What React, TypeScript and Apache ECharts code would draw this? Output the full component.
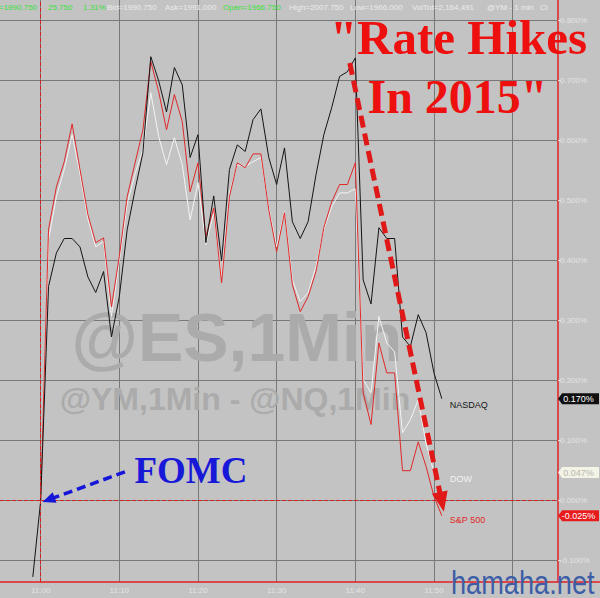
import React, { useEffect, useRef } from 'react';
import * as echarts from 'echarts';

// minutes after 11:00
const minutes = [-1, 0, 1, 2, 3, 4, 5, 6, 7, 8, 9, 10, 11, 12, 13, 14, 15, 16, 17, 18, 19, 20, 21, 22, 23, 24, 25, 26, 27, 28, 29, 30, 31, 32, 33, 34, 35, 36, 37, 38, 39, 40, 41, 42, 43, 44, 45, 46, 47, 48, 49, 50, 51];

const nasdaq = [-0.127, 0.0, 0.357, 0.413, 0.437, 0.437, 0.423, 0.373, 0.347, 0.382, 0.273, 0.34, 0.452, 0.518, 0.58, 0.74, 0.70, 0.648, 0.722, 0.693, 0.572, 0.61, 0.43, 0.508, 0.40, 0.552, 0.593, 0.582, 0.635, 0.653, 0.572, 0.527, 0.588, 0.465, 0.437, 0.465, 0.543, 0.61, 0.655, 0.707, 0.715, 0.738, 0.368, 0.328, 0.455, 0.437, 0.437, 0.273, 0.257, 0.31, 0.28, 0.213, 0.17];

const dow = [null, 0.0, 0.435, 0.507, 0.552, 0.61, 0.545, 0.47, 0.423, 0.432, 0.307, 0.40, 0.495, 0.545, 0.585, 0.68, 0.607, 0.56, 0.605, 0.56, 0.468, 0.53, 0.427, 0.48, 0.373, 0.513, 0.56, 0.557, 0.565, 0.572, 0.488, 0.423, 0.482, 0.368, 0.332, 0.347, 0.39, 0.452, 0.49, 0.513, 0.513, 0.52, 0.202, 0.18, 0.307, 0.263, 0.248, 0.113, 0.135, 0.168, 0.095, 0.047, null];

const sp500 = [null, 0.0, 0.452, 0.523, 0.565, 0.628, 0.552, 0.477, 0.43, 0.438, 0.323, 0.407, 0.507, 0.563, 0.618, 0.732, 0.682, 0.618, 0.677, 0.632, 0.515, 0.563, 0.44, 0.488, 0.363, 0.507, 0.563, 0.555, 0.578, 0.578, 0.485, 0.415, 0.48, 0.36, 0.315, 0.34, 0.382, 0.455, 0.498, 0.527, 0.527, 0.563, 0.18, 0.127, 0.263, 0.213, 0.213, 0.05, 0.05, 0.098, 0.057, 0.007, -0.025];

const seriesNames = ['NASDAQ', 'DOW', 'S&P 500'];

const headerSegments = [
  { text: '=1990.750', x: -1, green: true },
  { text: '25.750', x: 48, green: true },
  { text: '1.31%', x: 83, green: true },
  { text: 'Bid=1990.750', x: 107, green: false },
  { text: 'Ask=1991.000', x: 165, green: false },
  { text: 'Open=1966.750', x: 223, green: true },
  { text: 'High=2007.750', x: 289, green: false },
  { text: 'Low=1966.000', x: 350, green: false },
  { text: 'VolTot=2,164,491', x: 412, green: false },
  { text: '@YM - 1 min', x: 487, green: false },
  { text: 'Cl', x: 540, green: false },
];

const X_MIN = -5.17;
const X_MAX = 65.77;
const Y_MIN = -0.1355;
const Y_MAX = 0.8345;

const SANS = '"Liberation Sans", Arial, sans-serif';
const SERIF = '"Liberation Serif", "Times New Roman", serif';

function pairs(arr: (number | null)[]) {
  const out: [number, number][] = [];
  arr.forEach((v, i) => {
    if (v !== null && v !== undefined) out.push([minutes[i], v]);
  });
  return out;
}

function lastOf(arr: (number | null)[]) {
  for (let i = arr.length - 1; i >= 0; i--) if (arr[i] !== null) return arr[i] as number;
  return 0;
}

const fmtPct = (v: number) => {
  let s = v.toFixed(3);
  if (s === '-0.000') s = '0.000';
  return s + '%';
};

const tagPath = 'path://M0,5 L4,0 L40,0 L40,10 L4,10 Z';

export default function App() {
  const ref = useRef<HTMLDivElement>(null);

  useEffect(() => {
    if (!ref.current) return;
    const chart = echarts.init(ref.current, undefined, { renderer: 'svg' });
    const gridColor = '#787878';

    const lastN = lastOf(nasdaq);
    const lastD = lastOf(dow);
    const lastS = lastOf(sp500);

    const tag = (v: number, bg: string, fg: string) => ({
      coord: [X_MAX, v],
      symbol: tagPath,
      symbolSize: [41, 11],
      symbolOffset: [20.5, 0],
      itemStyle: { color: bg },
      label: {
        show: true,
        position: 'inside',
        formatter: fmtPct(v),
        color: fg,
        fontSize: 9,
        fontFamily: SANS,
      },
    });

    const option: any = {
      animation: false,
      backgroundColor: '#c3c3c3',
      grid: { left: 0, right: 42, top: 0, bottom: 16, containLabel: false },
      xAxis: {
        type: 'value',
        min: X_MIN,
        max: X_MAX,
        splitNumber: 7,
        axisLine: { show: true, onZero: false, lineStyle: { color: '#e02020', width: 1.5 } },
        axisTick: { show: false },
        axisLabel: {
          color: '#e4e4e4',
          fontSize: 8,
          margin: 4,
          fontFamily: SANS,
          showMinLabel: false,
          showMaxLabel: false,
          formatter: (v: number) => {
            const m = Math.round(v);
            if (Math.abs(v - m) > 1e-6 || m % 10 !== 0) return '';
            const h = 11 + Math.floor(m / 60);
            const mm = ((m % 60) + 60) % 60;
            return `${h}:${String(mm).padStart(2, '0')}`;
          },
        },
        splitLine: { show: true, showMinLine: false, showMaxLine: false, lineStyle: { color: gridColor, width: 1 } },
      },
      yAxis: {
        type: 'value',
        position: 'right',
        min: Y_MIN,
        max: Y_MAX,
        splitNumber: 10,
        axisLine: { show: true, onZero: false, lineStyle: { color: '#e02020', width: 1.5 } },
        axisTick: { show: true, length: 3, lineStyle: { color: '#e4e4e4' } },
        axisLabel: {
          color: '#e4e4e4',
          fontSize: 8,
          margin: 2,
          fontFamily: SANS,
          showMinLabel: false,
          showMaxLabel: false,
          formatter: (v: number) => {
            const k = Math.round(v * 10);
            if (Math.abs(v * 10 - k) > 1e-4) return '';
            return fmtPct(k / 10);
          },
        },
        splitLine: { show: true, showMinLine: false, showMaxLine: false, lineStyle: { color: gridColor, width: 1 } },
      },
      series: [
        {
          type: 'line',
          data: [],
          silent: true,
          z: 1,
          markLine: {
            silent: true,
            symbol: 'none',
            label: { show: false },
            lineStyle: { color: '#d42020', width: 1, type: [4, 2] },
            data: [{ xAxis: 0 }, { yAxis: 0 }],
          },
        },
        {
          name: seriesNames[1],
          type: 'line',
          data: pairs(dow),
          symbol: 'none',
          z: 2,
          lineStyle: { color: '#f4f4f4', width: 1 },
          itemStyle: { color: '#f4f4f4' },
          endLabel: {
            show: true,
            formatter: seriesNames[1],
            color: '#f4f4f4',
            fontSize: 9,
            fontFamily: SANS,
            distance: 8,
            offset: [8, 6],
          },
        },
        {
          name: seriesNames[2],
          type: 'line',
          data: pairs(sp500),
          symbol: 'none',
          z: 3,
          lineStyle: { color: '#e02828', width: 1 },
          itemStyle: { color: '#e02828' },
          endLabel: {
            show: true,
            formatter: seriesNames[2],
            color: '#e02828',
            fontSize: 9,
            fontFamily: SANS,
            distance: 8,
            offset: [0, 4],
          },
        },
        {
          name: seriesNames[0],
          type: 'line',
          data: pairs(nasdaq),
          symbol: 'none',
          z: 4,
          lineStyle: { color: '#141414', width: 1 },
          itemStyle: { color: '#141414' },
          endLabel: {
            show: true,
            formatter: seriesNames[0],
            color: '#141414',
            fontSize: 9,
            fontFamily: SANS,
            distance: 8,
            offset: [0, 6],
          },
        },
        {
          type: 'line',
          data: [],
          silent: true,
          clip: false,
          z: 6,
          markLine: {
            silent: true,
            label: { show: false },
            data: [
              [
                { coord: [39.3, 0.7295], symbol: 'none', lineStyle: { color: '#e01818', width: 5, type: [12, 6] } },
                { coord: [51.0, -0.002], symbol: 'triangle', symbolSize: [16, 20], lineStyle: { color: '#e01818', width: 5, type: [12, 6] } },
              ],
              [
                { coord: [10.71, 0.048], symbol: 'none', lineStyle: { color: '#1616d8', width: 3.5, type: [9, 5] } },
                { coord: [1.0, 0.0017], symbol: 'triangle', symbolSize: [11, 13], lineStyle: { color: '#1616d8', width: 3.5, type: [9, 5] } },
              ],
            ],
          },
          markPoint: {
            silent: true,
            data: [
              tag(lastN, '#101010', '#ffffff'),
              tag(lastD, '#f3f3e6', '#b8b8b0'),
              tag(lastS, '#e81c1c', '#ffffff'),
            ],
          },
        },
      ],
      graphic: [
        ...headerSegments.map((s) => ({
          type: 'text',
          x: s.x,
          y: 7,
          z: 100,
          style: {
            text: s.text,
            fill: s.green ? '#3ae23a' : '#ececec',
            font: `8px ${SANS}`,
            align: 'left',
            verticalAlign: 'middle',
          },
        })),
        {
          type: 'text',
          x: 237,
          y: 337,
          z: 1,
          style: {
            text: '@ES,1Min',
            fill: '#ababab',
            font: `bold 68px ${SANS}`,
            align: 'center',
            verticalAlign: 'middle',
          },
        },
        {
          type: 'text',
          x: 235,
          y: 399,
          z: 1,
          style: {
            text: '@YM,1Min - @NQ,1Min',
            fill: '#ababab',
            font: `bold 32px ${SANS}`,
            align: 'center',
            verticalAlign: 'middle',
          },
        },
        {
          type: 'text',
          x: 458.5,
          y: 37,
          z: 100,
          style: {
            text: '"Rate Hikes',
            fill: '#ee0f0f',
            font: `bold 49px ${SERIF}`,
            lineHeight: 34,
            align: 'center',
            verticalAlign: 'middle',
          },
        },
        {
          type: 'text',
          x: 457.5,
          y: 96,
          z: 100,
          style: {
            text: 'In 2015"',
            fill: '#ee0f0f',
            font: `bold 48px ${SERIF}`,
            lineHeight: 34,
            align: 'center',
            verticalAlign: 'middle',
          },
        },
        {
          type: 'text',
          x: 191,
          y: 470.5,
          z: 100,
          style: {
            text: 'FOMC',
            fill: '#1818d8',
            font: `bold 37px ${SERIF}`,
            align: 'center',
            verticalAlign: 'middle',
          },
        },
        {
          type: 'line',
          z: 50,
          shape: { x1: 558, y1: 582, x2: 600, y2: 582 },
          style: { stroke: '#e02020', lineWidth: 1.5 },
        },
        {
          type: 'text',
          x: 451,
          y: 582,
          scaleX: 0.8,
          z: 100,
          style: {
            text: 'hamaha.net',
            fill: '#3d5ea6',
            font: `34px ${SANS}`,
            align: 'left',
            verticalAlign: 'middle',
          },
        },
      ],
    };

    chart.setOption(option);
    return () => chart.dispose();
  }, []);

  return (
    <div
      ref={ref}
      style={{ position: 'fixed', left: 0, top: 0, width: 600, height: 598 }}
    />
  );
}
